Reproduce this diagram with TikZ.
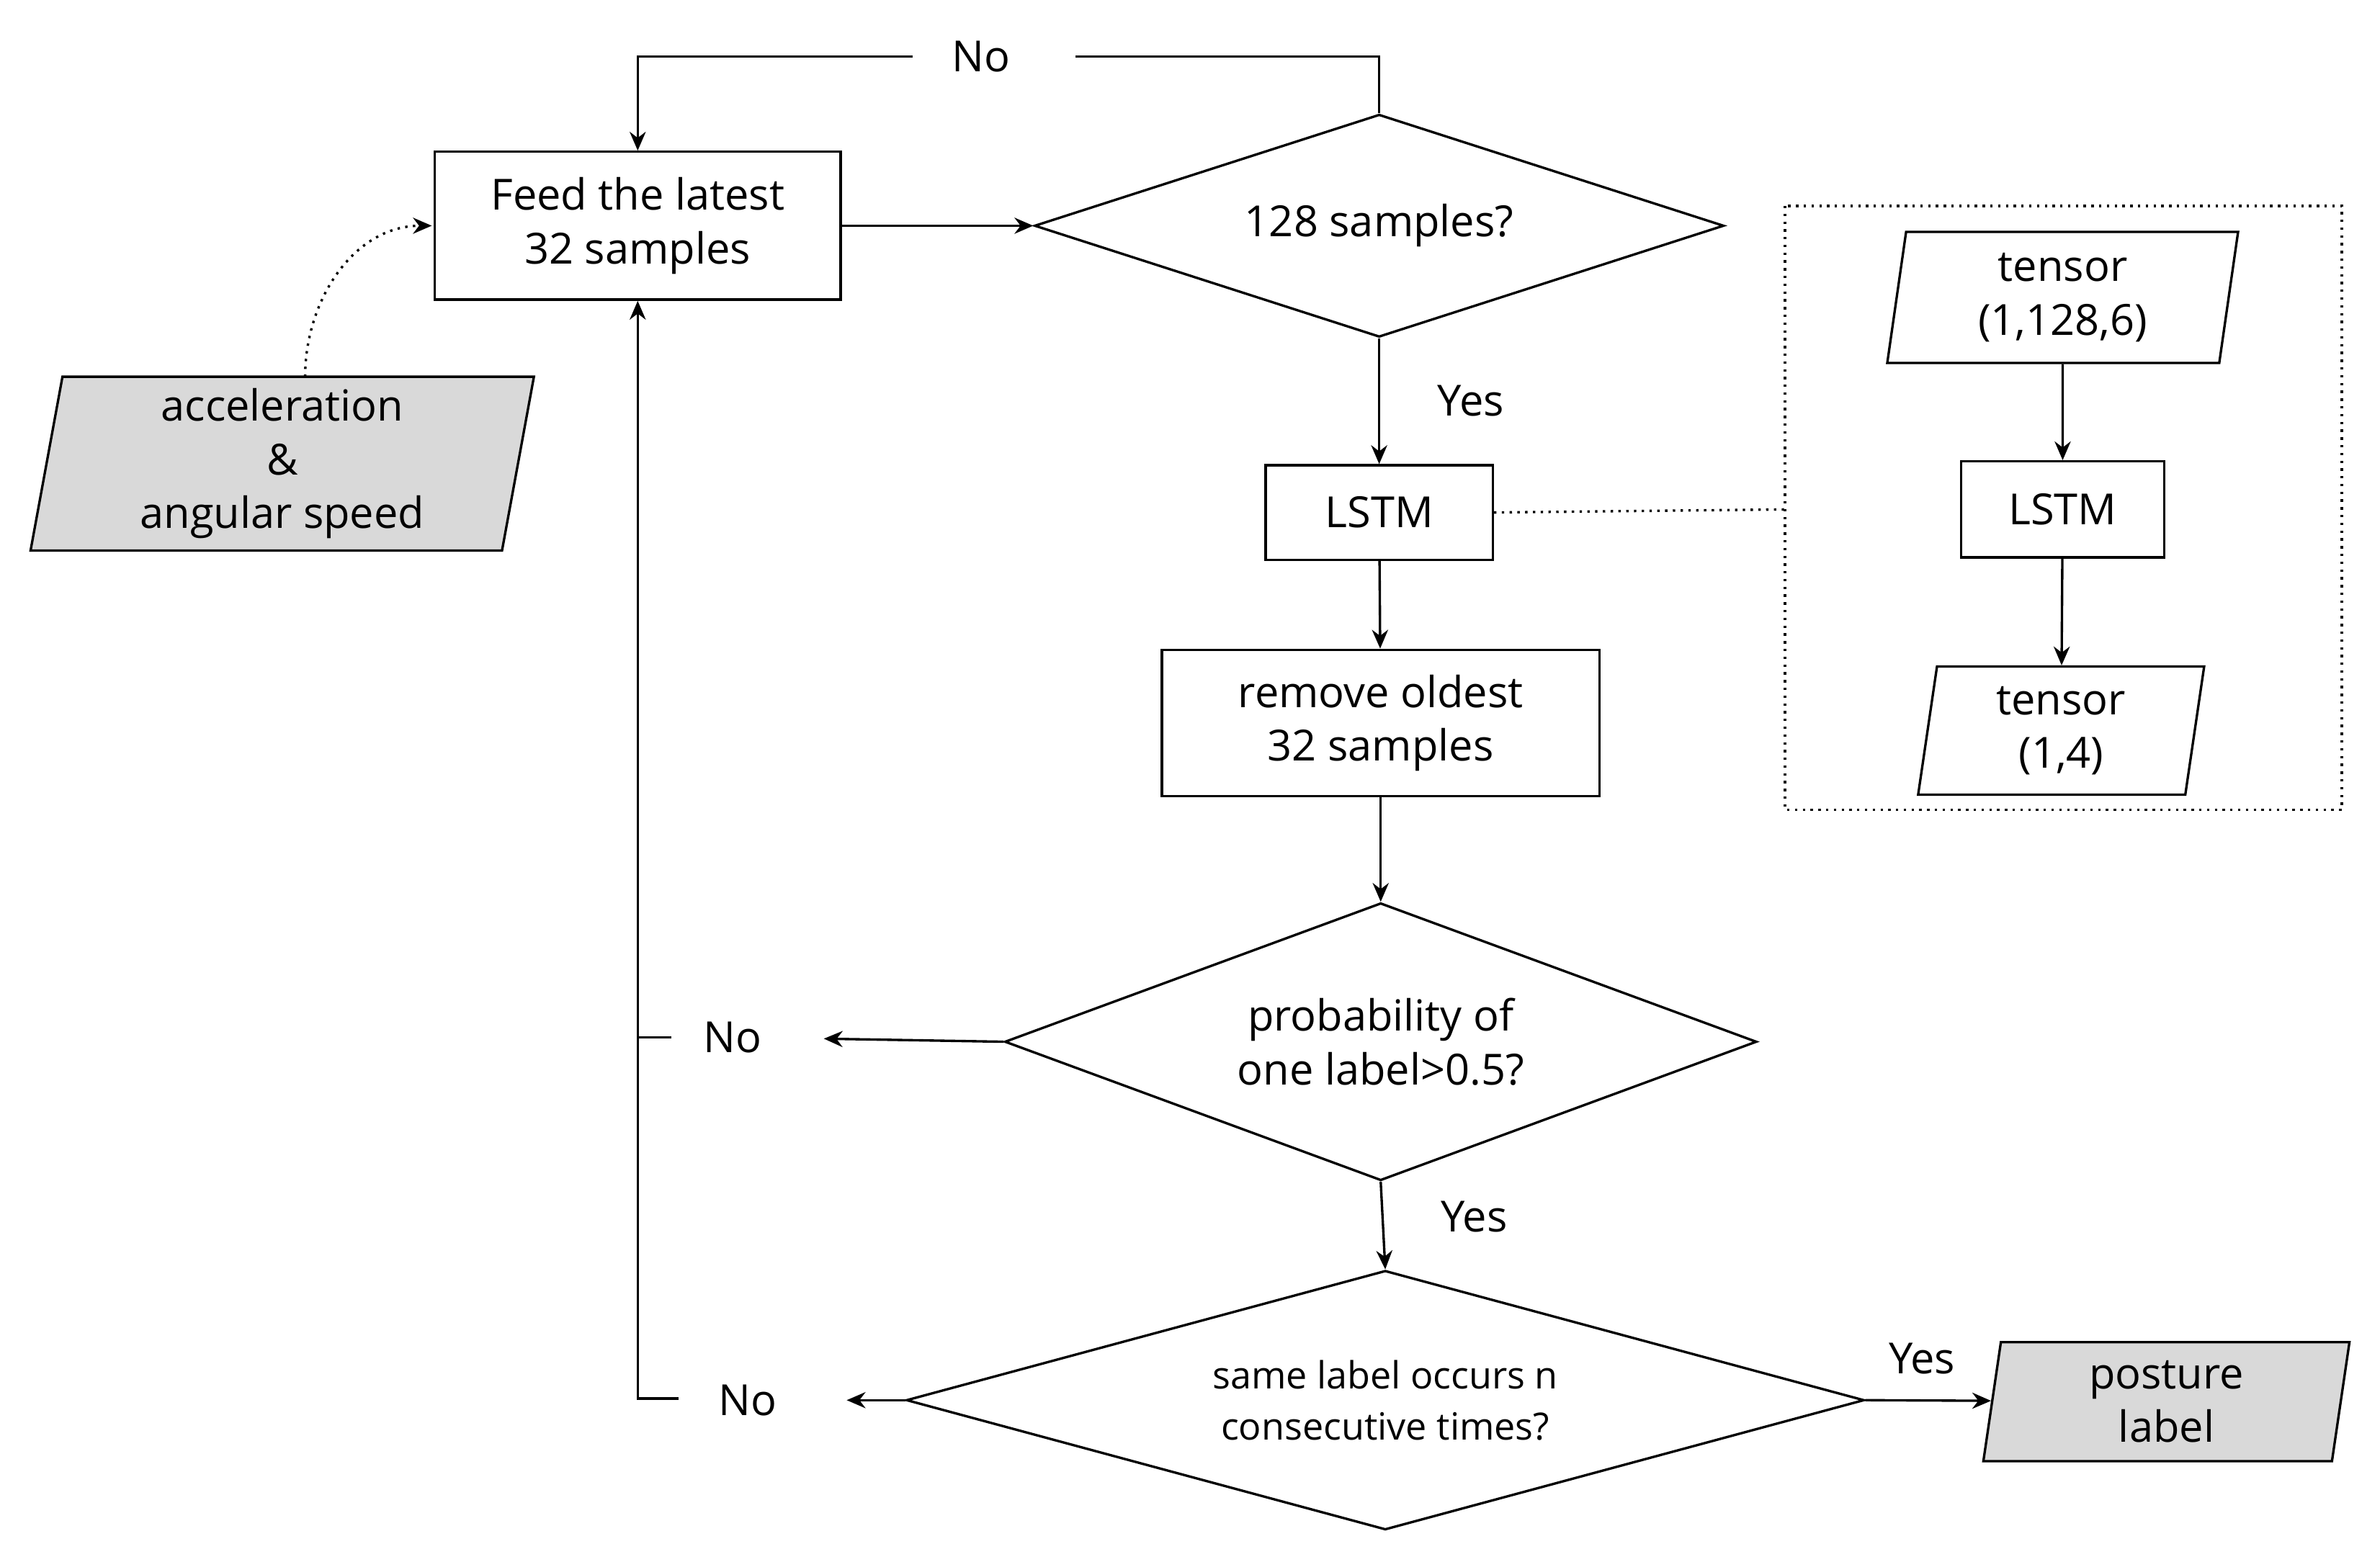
\documentclass[tikz,border=0pt]{standalone}
\usepackage{fontspec}
\setmainfont{Open Sans}
\usetikzlibrary{shapes.geometric,arrows.meta}
\begin{document}
\begin{tikzpicture}[x=0.02cm,y=-0.02cm,
  every node/.style={font=\fontsize{16}{20}\selectfont, align=center},
  box/.style={draw,semithick,line width=0.9pt,inner sep=0pt},
  dia/.style={draw,line width=0.9pt,diamond,aspect=3.1,inner sep=0pt},
  para/.style={draw,line width=0.9pt,trapezium,trapezium left angle=78,trapezium right angle=102,trapezium stretches body,inner sep=0pt},
  arr/.style={line width=0.9pt,-{Stealth[length=7pt,width=6pt]}},
  ln/.style={line width=0.9pt}]
\useasboundingbox (0,0) rectangle (1560,1024);
\node[box,minimum width=5.32cm,minimum height=1.94cm] (feed) at (418,148) {Feed the latest\\32 samples};
\node[dia,minimum width=9.04cm,minimum height=2.92cm] (d1) at (904,148) {128 samples?};
\node[box,minimum width=2.98cm,minimum height=1.24cm] (lstm) at (904,336) {LSTM};
\node[box,minimum width=5.74cm,minimum height=1.92cm] (rem) at (905,474) {remove oldest\\32 samples};
\node[dia,minimum width=9.86cm,minimum height=3.64cm] (d2) at (905,683) {probability of\\one label>0.5?};
\node[dia,minimum width=12.56cm,minimum height=3.4cm,font=\fontsize{14}{19}\selectfont] (d3) at (908,918) {same label occurs n\\consecutive times?};
\node[para,fill=gray!30,minimum width=6.6cm,minimum height=2.28cm] (acc) at (185,304) {acceleration\\\&\\angular speed};
\node[para,fill=gray!30,minimum width=4.8cm,minimum height=1.56cm] (post) at (1420,919) {posture\\label};
\node[para,minimum width=4.6cm,minimum height=1.72cm] (t1) at (1352,195) {tensor\\(1,128,6)};
\node[box,minimum width=2.66cm,minimum height=1.26cm] (l2) at (1352,334) {LSTM};
\node[para,minimum width=3.75cm,minimum height=1.68cm] (t2) at (1351,479) {tensor\\(1,4)};
\draw[line width=0.9pt,dotted] (1170,135) rectangle (1535,531);
\coordinate (bx) at (1170,334);
\draw[line width=0.9pt,dotted] (lstm.east) -- (bx);
\draw[arr] (t1) -- (l2);
\draw[arr] (l2) -- (t2);
\draw[arr] (feed.east) -- (d1.west);
\draw[arr] (d1.south) -- node[pos=0.5,right=18pt] {Yes} (lstm.north);
\draw[arr] (lstm) -- (rem);
\draw[arr] (rem) -- (d2.north);
\draw[arr] (d2.south) -- node[pos=0.4,right=18pt] {Yes} (d3.north);
\draw[arr] (d3.east) -- node[above=6pt,pos=0.45] {Yes} (post);
\node (no1) at (643,37) {No};
\draw[ln] (d1.north) -- (904,37) -- (705,37);
\draw[arr] (598,37) -- (418,37) -- (feed.north);
\node (no2) at (480,680) {No};
\node (no3) at (490,918) {No};
\coordinate (a2) at (540,681);
\coordinate (a3) at (555,918);
\draw[arr] (d2.west) -- (a2);
\draw[arr] (d3.west) -- (a3);
\draw[ln] (440,680) -- (418,680);
\draw[arr] (445,917) -- (418,917) -- (feed.south);
\draw[line width=0.9pt,dotted,-{Stealth[length=7pt,width=6pt]}] (200,247) to[out=90,in=180] (283,148);
\end{tikzpicture}
\end{document}
